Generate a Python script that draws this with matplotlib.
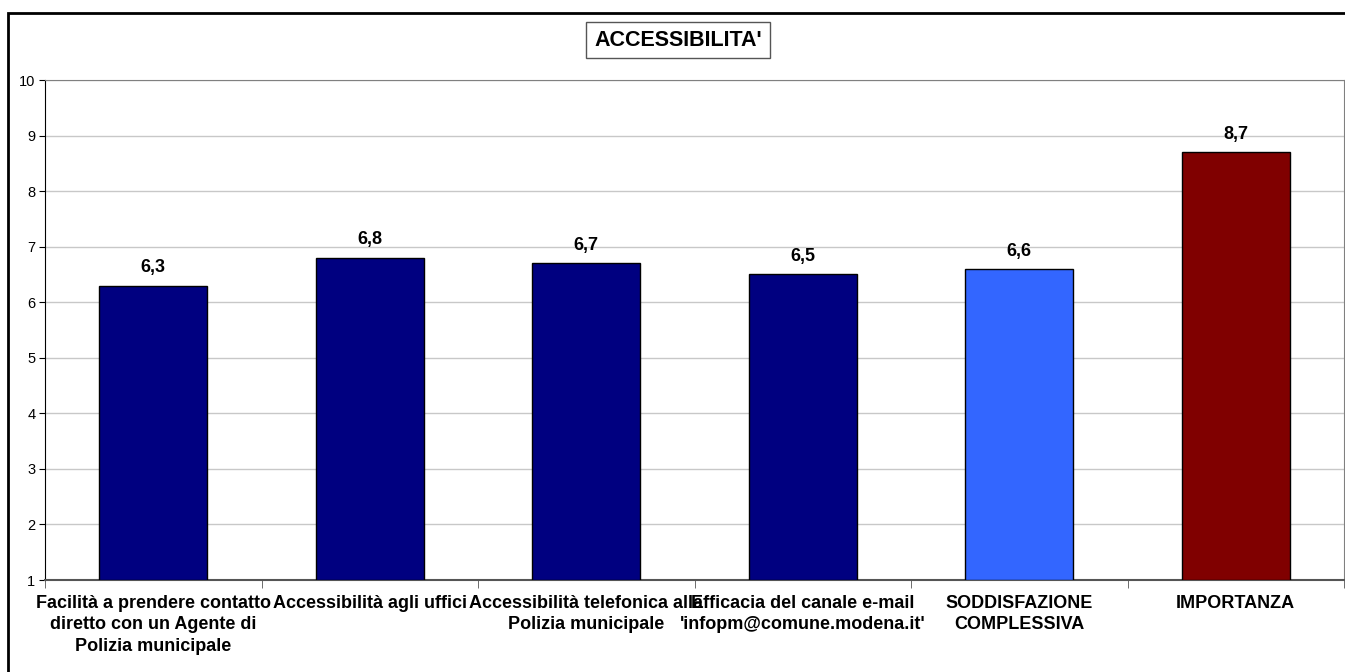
import numpy as np
import matplotlib
matplotlib.use("Agg")
import matplotlib.pyplot as plt
from matplotlib.patches import Rectangle

plt.rcParams["font.family"] = ["Liberation Sans", "DejaVu Sans"]

# dati
categorie = [
    "Facilità a prendere contatto\ndiretto con un Agente di\nPolizia municipale",
    "Accessibilità agli uffici",
    "Accessibilità telefonica alla\nPolizia municipale",
    "Efficacia del canale e-mail\n'infopm@comune.modena.it'",
    "SODDISFAZIONE\nCOMPLESSIVA",
    "IMPORTANZA",
]
valori = [6.3, 6.8, 6.7, 6.5, 6.6, 8.7]
colori = ["#000080", "#000080", "#000080", "#000080", "#3366FF", "#800000"]
titolo = "ACCESSIBILITA'"

fig = plt.figure(figsize=(13.45, 6.72), dpi=100)
ax = fig.add_axes([45 / 1345, 1 - 580 / 672, 1299 / 1345, 500 / 672])

# cornice esterna del grafico
fig.patches.append(Rectangle((8 / 1345, -0.1), 1.2, 1 - 13 / 672 + 0.1,
                             transform=fig.transFigure, fill=False,
                             edgecolor="black", linewidth=2))

x = np.arange(len(valori))
base = 1
ax.bar(x, np.array(valori) - base, bottom=base, width=0.5, color=colori,
       edgecolor="black", linewidth=1, zorder=3)

for xi, v in zip(x, valori):
    ax.text(xi, v + 0.24, f"{v:.1f}".replace(".", ","), ha="center",
            va="baseline", fontsize=13, fontweight="bold")

ax.set_xlim(-0.5, len(valori) - 0.5)
ax.set_ylim(1, 10)
ax.set_yticks(range(1, 11))
ax.tick_params(axis="y", labelsize=10.5, length=4, direction="out", pad=3)
ax.yaxis.grid(True, color="#c8c8c8", linewidth=1, zorder=0)

# etichette delle categorie e tacche ai confini
ax.set_xticks(x)
ax.set_xticklabels(categorie, fontsize=13, fontweight="bold",
                   linespacing=1.32)
ax.tick_params(axis="x", length=0, pad=11)
ax.set_xticks(np.arange(-0.5, len(valori)), minor=True)
ax.tick_params(axis="x", which="minor", length=6, color="#555555")

ax.spines["left"].set_color("black")
ax.spines["bottom"].set_color("#555555")
ax.spines["bottom"].set_linewidth(1.5)
ax.spines["top"].set_color("#808080")
ax.spines["right"].set_color("#808080")

fig.text(678 / 1345, 1 - 40 / 672, titolo, ha="center", va="center",
         fontsize=15.5, fontweight="bold",
         bbox=dict(boxstyle="square,pad=0.36", facecolor="white",
                   edgecolor="#555555", linewidth=1))

fig.savefig("out.png", dpi=100)
